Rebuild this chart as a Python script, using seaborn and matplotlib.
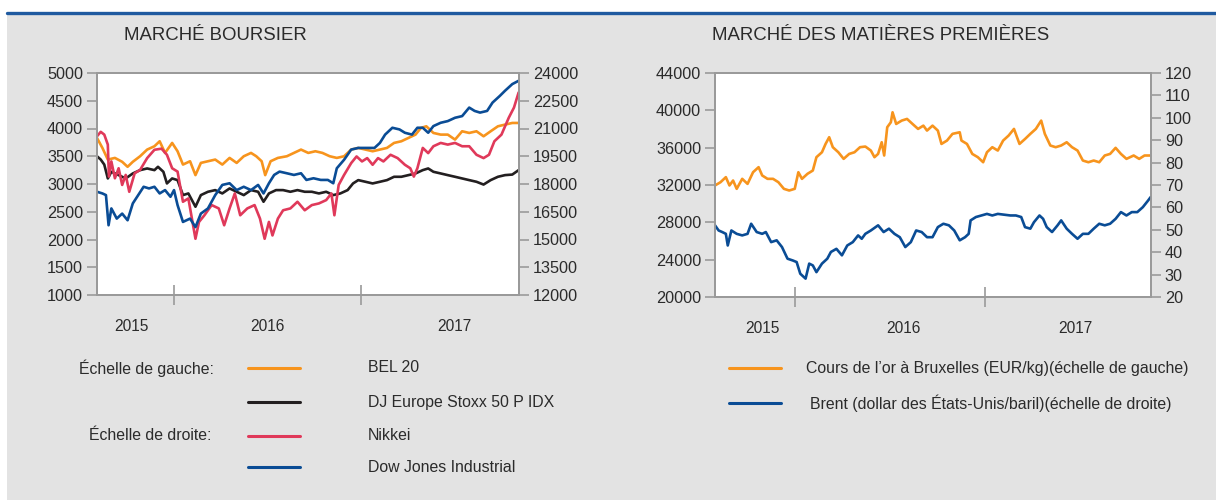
import matplotlib
matplotlib.use("Agg")
import matplotlib.pyplot as plt
import seaborn as sns
import numpy as np
from matplotlib.lines import Line2D
from matplotlib.patches import Rectangle

sns.set_style("white")
plt.rcParams['font.family'] = ['Liberation Sans', 'DejaVu Sans']

# ---------------- data (time in decimal years) ----------------
bel20_t = [2015.585, 2015.614, 2015.643, 2015.681, 2015.720, 2015.749, 2015.777, 2015.816, 2015.854, 2015.893,
           2015.921, 2015.950, 2015.988, 2016.017, 2016.046, 2016.084, 2016.113, 2016.142, 2016.180, 2016.219,
           2016.257, 2016.296, 2016.334, 2016.372, 2016.411, 2016.439, 2016.468, 2016.487, 2016.516, 2016.555,
           2016.603, 2016.641, 2016.679, 2016.718, 2016.756, 2016.794, 2016.833, 2016.871, 2016.910, 2016.948,
           2016.986, 2017.025, 2017.063, 2017.102, 2017.140, 2017.178, 2017.217, 2017.255, 2017.293, 2017.322,
           2017.351, 2017.389, 2017.428, 2017.466, 2017.505, 2017.543, 2017.581, 2017.620, 2017.658, 2017.696,
           2017.735, 2017.773, 2017.812, 2017.846]
bel20 = [3830, 3650, 3440, 3470, 3400, 3310, 3400, 3500, 3620, 3680,
         3770, 3560, 3740, 3590, 3350, 3410, 3160, 3380, 3410, 3440,
         3350, 3470, 3380, 3500, 3560, 3500, 3410, 3160, 3410, 3470,
         3500, 3560, 3620, 3560, 3590, 3560, 3500, 3470, 3500, 3620,
         3650, 3620, 3590, 3620, 3650, 3740, 3770, 3830, 3890, 4010,
         4040, 3920, 3890, 3890, 3800, 3950, 3920, 3950, 3860, 3950,
         4040, 4070, 4100, 4100]

stoxx_t = [2015.585, 2015.605, 2015.624, 2015.643, 2015.662, 2015.701, 2015.739, 2015.777, 2015.816, 2015.854,
           2015.893, 2015.912, 2015.941, 2015.960, 2015.988, 2016.017, 2016.046, 2016.075, 2016.113, 2016.142,
           2016.180, 2016.219, 2016.257, 2016.296, 2016.334, 2016.372, 2016.411, 2016.449, 2016.478, 2016.507,
           2016.545, 2016.583, 2016.622, 2016.660, 2016.699, 2016.737, 2016.775, 2016.814, 2016.852, 2016.890,
           2016.929, 2016.958, 2016.986, 2017.025, 2017.063, 2017.102, 2017.140, 2017.178, 2017.217, 2017.255,
           2017.293, 2017.332, 2017.361, 2017.389, 2017.428, 2017.466, 2017.505, 2017.543, 2017.581, 2017.620,
           2017.658, 2017.696, 2017.735, 2017.773, 2017.812, 2017.846]
stoxx = [3500, 3440, 3350, 3100, 3220, 3160, 3100, 3190, 3250, 3280,
         3250, 3310, 3220, 3010, 3100, 3070, 2800, 2830, 2590, 2800,
         2860, 2890, 2830, 2920, 2860, 2800, 2890, 2860, 2680, 2830,
         2890, 2890, 2860, 2890, 2860, 2860, 2830, 2860, 2800, 2830,
         2890, 3010, 3070, 3040, 3010, 3040, 3070, 3130, 3130, 3160,
         3190, 3250, 3280, 3220, 3190, 3160, 3130, 3100, 3070, 3040,
         2990, 3070, 3130, 3160, 3170, 3250]

nikkei_t = [2015.585, 2015.605, 2015.624, 2015.643, 2015.649, 2015.662, 2015.681, 2015.701, 2015.720, 2015.739,
            2015.758, 2015.787, 2015.816, 2015.854, 2015.893, 2015.931, 2015.960, 2015.988, 2016.017, 2016.046,
            2016.075, 2016.113, 2016.132, 2016.161, 2016.200, 2016.238, 2016.267, 2016.296, 2016.324, 2016.353,
            2016.391, 2016.430, 2016.459, 2016.484, 2016.507, 2016.526, 2016.555, 2016.583, 2016.622, 2016.660,
            2016.699, 2016.737, 2016.775, 2016.814, 2016.842, 2016.858, 2016.881, 2016.910, 2016.948, 2016.977,
            2017.006, 2017.034, 2017.063, 2017.092, 2017.121, 2017.159, 2017.197, 2017.236, 2017.265, 2017.284,
            2017.303, 2017.332, 2017.361, 2017.389, 2017.428, 2017.466, 2017.505, 2017.543, 2017.581, 2017.620,
            2017.658, 2017.687, 2017.716, 2017.754, 2017.793, 2017.821, 2017.846]
nikkei = [20580, 20820, 20670, 20130, 18400, 19220, 18310, 18850, 17950, 18490,
          17580, 18580, 18760, 19400, 19850, 19910, 19580, 18850, 18670, 17040,
          17220, 15040, 15950, 16310, 16860, 16680, 15770, 16680, 17490, 16310,
          16680, 16860, 16130, 15040, 15950, 15220, 16130, 16580, 16680, 17040,
          16580, 16860, 16950, 17130, 17490, 16310, 17950, 18490, 19130, 19490,
          19220, 19400, 19040, 19400, 19220, 19580, 19400, 19040, 18850, 18400,
          18850, 19950, 19670, 20040, 20220, 20130, 20220, 20040, 20040, 19580,
          19400, 19580, 20310, 20670, 21580, 22130, 22950]

dow_t = [2015.585, 2015.614, 2015.633, 2015.647, 2015.662, 2015.691, 2015.720, 2015.749, 2015.777, 2015.806,
         2015.835, 2015.864, 2015.893, 2015.921, 2015.950, 2015.979, 2015.998, 2016.017, 2016.046, 2016.084,
         2016.113, 2016.142, 2016.180, 2016.219, 2016.257, 2016.296, 2016.334, 2016.372, 2016.411, 2016.449,
         2016.478, 2016.507, 2016.535, 2016.564, 2016.603, 2016.641, 2016.679, 2016.708, 2016.746, 2016.785,
         2016.823, 2016.852, 2016.871, 2016.910, 2016.948, 2016.986, 2017.025, 2017.073, 2017.102, 2017.130,
         2017.169, 2017.207, 2017.236, 2017.274, 2017.303, 2017.332, 2017.361, 2017.389, 2017.428, 2017.466,
         2017.505, 2017.543, 2017.581, 2017.610, 2017.639, 2017.677, 2017.706, 2017.745, 2017.773, 2017.812,
         2017.846]
dow = [17580, 17490, 17400, 15770, 16680, 16130, 16400, 16040, 16950, 17400,
       17850, 17760, 17850, 17490, 17670, 17310, 17670, 16860, 15950, 16130,
       15670, 16400, 16680, 17400, 17950, 18040, 17670, 17850, 17670, 17950,
       17490, 18040, 18490, 18670, 18580, 18490, 18580, 18220, 18310, 18220,
       18220, 18040, 18850, 19310, 19860, 19950, 19950, 19950, 20220, 20670,
       21040, 20950, 20770, 20670, 21040, 21040, 20770, 21130, 21310, 21400,
       21580, 21670, 22130, 21950, 21860, 21950, 22400, 22760, 23040, 23400,
       23580]

gold_t = [2015.581, 2015.610, 2015.638, 2015.657, 2015.676, 2015.695, 2015.724, 2015.752, 2015.781, 2015.810,
          2015.829, 2015.857, 2015.886, 2015.914, 2015.943, 2015.971, 2016.000, 2016.019, 2016.038, 2016.067,
          2016.095, 2016.114, 2016.143, 2016.162, 2016.181, 2016.200, 2016.229, 2016.257, 2016.286, 2016.314,
          2016.343, 2016.371, 2016.400, 2016.419, 2016.438, 2016.457, 2016.470, 2016.486, 2016.505, 2016.514,
          2016.533, 2016.562, 2016.590, 2016.619, 2016.648, 2016.676, 2016.695, 2016.724, 2016.752, 2016.771,
          2016.800, 2016.829, 2016.867, 2016.876, 2016.905, 2016.933, 2016.962, 2016.990, 2017.010, 2017.038,
          2017.067, 2017.095, 2017.124, 2017.152, 2017.181, 2017.210, 2017.238, 2017.267, 2017.295, 2017.314,
          2017.343, 2017.371, 2017.400, 2017.429, 2017.457, 2017.486, 2017.514, 2017.543, 2017.571, 2017.600,
          2017.629, 2017.657, 2017.686, 2017.714, 2017.743, 2017.781, 2017.810, 2017.838, 2017.870]
gold = [31950, 32300, 32840, 31950, 32480, 31590, 32660, 32120, 33370, 33910,
        33020, 32660, 32660, 32300, 31590, 31410, 31590, 33370, 32660, 33200,
        33550, 34980, 35510, 36400, 37120, 36050, 35510, 34800, 35330, 35510,
        36050, 36120, 35690, 34980, 35330, 36580, 35160, 38190, 38720, 39790,
        38540, 38900, 39080, 38540, 38010, 38360, 37830, 38360, 37830, 36400,
        36760, 37480, 37650, 36760, 36400, 35330, 34980, 34440, 35510, 36050,
        35690, 36760, 37300, 38010, 36400, 36930, 37480, 38010, 38900, 37480,
        36230, 36050, 36230, 36580, 36050, 35690, 34620, 34440, 34620, 34440,
        35160, 35330, 35980, 35330, 34800, 35160, 34800, 35160, 35160]

brent_t = [2015.581, 2015.600, 2015.619, 2015.638, 2015.648, 2015.667, 2015.695, 2015.724, 2015.752, 2015.771,
           2015.800, 2015.829, 2015.848, 2015.876, 2015.905, 2015.933, 2015.962, 2015.990, 2016.010, 2016.029,
           2016.057, 2016.076, 2016.095, 2016.114, 2016.143, 2016.171, 2016.190, 2016.219, 2016.248, 2016.276,
           2016.305, 2016.333, 2016.352, 2016.371, 2016.400, 2016.438, 2016.467, 2016.495, 2016.524, 2016.552,
           2016.581, 2016.610, 2016.638, 2016.667, 2016.695, 2016.724, 2016.752, 2016.781, 2016.810, 2016.838,
           2016.867, 2016.895, 2016.914, 2016.924, 2016.952, 2016.981, 2017.010, 2017.038, 2017.067, 2017.095,
           2017.133, 2017.162, 2017.190, 2017.210, 2017.238, 2017.257, 2017.286, 2017.305, 2017.324, 2017.352,
           2017.381, 2017.400, 2017.429, 2017.457, 2017.486, 2017.514, 2017.543, 2017.571, 2017.600, 2017.629,
           2017.657, 2017.686, 2017.714, 2017.743, 2017.771, 2017.800, 2017.829, 2017.857, 2017.870]
brent = [52.0, 49.7, 49.0, 48.2, 43.0, 49.7, 48.2, 47.5, 48.2, 52.7,
         49.0, 48.2, 49.0, 44.5, 45.3, 42.3, 37.1, 36.3, 35.6, 30.4,
         28.2, 34.9, 34.1, 31.1, 34.9, 37.1, 40.1, 41.5, 38.6, 43.0,
         44.5, 47.5, 46.0, 48.2, 49.7, 52.0, 49.0, 50.5, 48.2, 46.7,
         42.3, 44.5, 49.7, 49.0, 46.7, 46.7, 51.2, 52.7, 52.0, 49.7,
         45.3, 46.7, 48.2, 54.2, 55.7, 56.4, 57.1, 56.4, 57.1, 56.8,
         56.4, 56.4, 55.7, 51.2, 50.5, 53.4, 56.4, 54.9, 51.2, 49.0,
         52.0, 54.2, 50.5, 48.2, 46.0, 48.2, 48.2, 50.5, 52.7, 52.0,
         52.7, 54.9, 57.9, 56.4, 57.9, 57.9, 60.1, 63.1, 64.6]

year_labels = ['2015', '2016', '2017']
left_ticks = [1000, 1500, 2000, 2500, 3000, 3500, 4000, 4500, 5000]
right_ticks = [12000, 13500, 15000, 16500, 18000, 19500, 21000, 22500, 24000]
gold_ticks = [20000, 24000, 28000, 32000, 36000, 40000, 44000]
brent_ticks = [20, 30, 40, 50, 60, 70, 80, 90, 100, 110, 120]

# ---------------- styling ----------------
ORANGE = '#F7941D'
BLACK = '#231F20'
RED = '#E0395A'
BLUE = '#0A4C95'
BG = '#E3E3E3'
SP = '#9A9A9A'
TXT = '#2B2B2B'
LW = 1.9

W, H = 1216, 500
fig = plt.figure(figsize=(12.16, 5.0), dpi=100, facecolor='white')


def fx(px):
    return px / W


def fy(py):
    return 1 - py / H


fig.patches.append(Rectangle((fx(7), 0), 1 - fx(7), fy(14), transform=fig.transFigure,
                             facecolor=BG, edgecolor='none', zorder=-10))
fig.add_artist(Line2D([fx(7), 1], [fy(13), fy(13)], color='#1F5AA0', lw=2.4, zorder=-5))


def make_axes(x0, x1, y0, y1):
    ax = fig.add_axes([fx(x0), fy(y1), fx(x1) - fx(x0), fy(y0) - fy(y1)])
    tw = ax.twinx()
    return ax, tw


def style(ax, tw, xlim, ylim, yt, ylim2, yt2, label_pos):
    ax.set_facecolor('white')
    ax.set_xlim(*xlim)
    ax.set_ylim(*ylim)
    ax.set_yticks(yt)
    tw.set_ylim(*ylim2)
    tw.set_yticks(yt2)
    for a in (ax, tw):
        for s in a.spines.values():
            s.set_color(SP)
            s.set_linewidth(1.3)
        a.set_xlabel('')
        a.set_ylabel('')
        a.grid(False)
    ax.tick_params(axis='y', left=True, right=False, direction='out', length=7, width=1.2, color=SP,
                   labelsize=11.7, labelcolor=TXT, pad=3)
    tw.tick_params(axis='y', left=False, right=True, direction='out', length=7, width=1.2, color=SP,
                   labelsize=11.7, labelcolor=TXT, pad=3)
    ax.set_xticks([2016, 2017])
    ax.set_xticklabels(['', ''])
    ax.tick_params(axis='x', which='major', bottom=True, direction='inout', length=14, width=1.2, color=SP)
    ax.set_xticks(label_pos, minor=True)
    ax.set_xticklabels(year_labels, minor=True)
    ax.tick_params(axis='x', which='minor', bottom=True, length=0, pad=17, labelsize=11.2, labelcolor=TXT)


# ----- left chart -----
axL, twL = make_axes(97, 519, 73, 295)
sns.lineplot(x=bel20_t, y=bel20, ax=axL, color=ORANGE, linewidth=LW)
sns.lineplot(x=stoxx_t, y=stoxx, ax=axL, color=BLACK, linewidth=LW)
sns.lineplot(x=nikkei_t, y=nikkei, ax=twL, color=RED, linewidth=LW)
sns.lineplot(x=dow_t, y=dow, ax=twL, color=BLUE, linewidth=LW)
style(axL, twL, (2015.585, 2017.848), (1000, 5000), left_ticks, (12000, 24000), right_ticks,
      [2015.772, 2016.501, 2017.503])

# ----- right chart -----
axR, twR = make_axes(715, 1151, 73, 297)
sns.lineplot(x=gold_t, y=gold, ax=axR, color=ORANGE, linewidth=LW)
sns.lineplot(x=brent_t, y=brent, ax=twR, color=BLUE, linewidth=LW)
style(axR, twR, (2015.581, 2017.872), (20000, 44000), gold_ticks, (20, 120), brent_ticks,
      [2015.828, 2016.569, 2017.473])

# ----- titles -----
fig.text(fx(124), fy(36), 'MARCHÉ BOURSIER', fontsize=13.4, color=TXT, ha='left', va='center')
fig.text(fx(712), fy(36), 'MARCHÉ DES MATIÈRES PREMIÈRES', fontsize=13.4, color=TXT, ha='left', va='center')

# ----- legends -----
def legline(x0, x1, y, c):
    fig.add_artist(Line2D([fx(x0), fx(x1)], [fy(y), fy(y)], color=c, lw=2.2))


LFS = 11.45
fig.text(fx(214), fy(368), 'Échelle de gauche:', fontsize=LFS, color=TXT, ha='right', va='center')
fig.text(fx(211), fy(436), 'Échelle de droite:', fontsize=LFS, color=TXT, ha='right', va='center')
for y, c, lab in [(368, ORANGE, 'BEL 20'), (402, BLACK, 'DJ Europe Stoxx 50 P IDX'),
                  (436, RED, 'Nikkei'), (467, BLUE, 'Dow Jones Industrial')]:
    legline(248, 300, y, c)
    fig.text(fx(368), fy(y), lab, fontsize=LFS, color=TXT, ha='left', va='center')

legline(729, 781, 368, ORANGE)
fig.text(fx(806), fy(368), 'Cours de l’or à Bruxelles (EUR/kg)(échelle de gauche)',
         fontsize=LFS, color=TXT, ha='left', va='center')
legline(729, 781, 403, BLUE)
fig.text(fx(810), fy(403), 'Brent (dollar des États-Unis/baril)(échelle de droite)',
         fontsize=LFS, color=TXT, ha='left', va='center')

fig.savefig('out.png', dpi=100, facecolor=fig.get_facecolor())
